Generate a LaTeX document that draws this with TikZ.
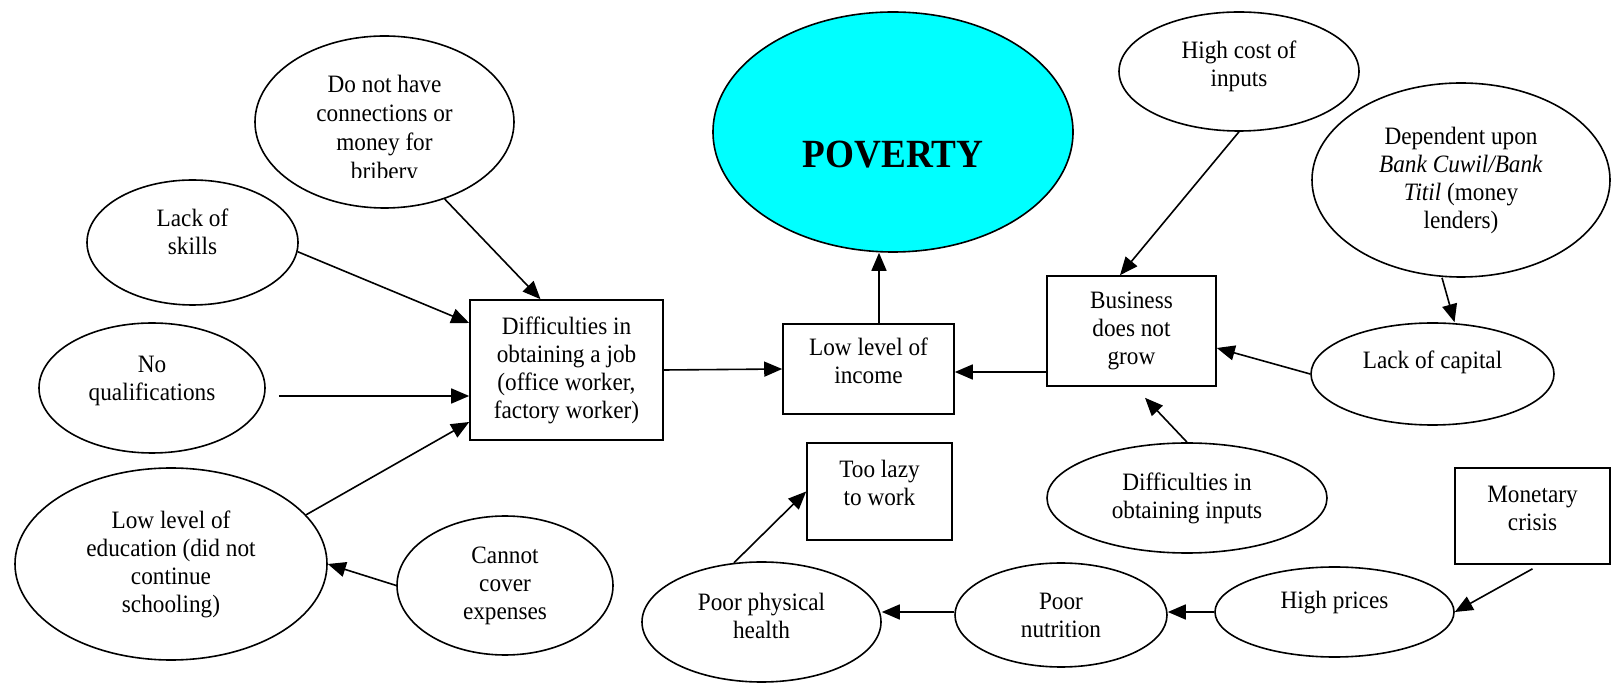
\documentclass[tikz,border=0pt]{standalone}
\usepackage{fontspec}
\setmainfont{Liberation Serif}[FakeStretch=0.93]
\usetikzlibrary{shapes.geometric,arrows.meta,calc}
\newcommand{\lift}[2]{\raisebox{#1}[\height][\depth]{#2}}
\newcommand{\lines}[1]{\begin{tabular}{@{}c@{}}#1\end{tabular}}
\tikzset{
  base/.style={draw, line width=0.8pt, inner sep=0pt, align=center,
    font=\fontsize{12.5pt}{14pt}\selectfont},
  ell/.style={base, ellipse},
  box/.style={base, rectangle},
  sz/.style 2 args={minimum width=#1pt, minimum height=#2pt},
  arr/.style={line width=0.8pt, -{Triangle[length=9pt,width=7.5pt]}}
}
\begin{document}
\begin{tikzpicture}[x=0.5pt,y=-0.5pt]
\fill[white] (0,0) rectangle (1612,683);
\useasboundingbox (0,0) rectangle (1612,683);

% central chain
\node[ell, sz={180}{120}, fill={rgb,255:red,0;green,255;blue,255},
      font=\fontsize{20pt}{22pt}\selectfont\bfseries] (pov) at (893,132) {\lift{-11.5pt}{POVERTY}};
\node[box, sz={85.5}{45}] (income) at (868.5,369) {\lift{2.5pt}{\lines{Low level of\\income}}};
\node[box, sz={96.5}{70}] (job) at (566.5,370) {Difficulties in\\obtaining a job\\(office worker,\\factory worker)};
\node[box, sz={84.5}{55}] (biz) at (1131.5,331) {Business\\does not\\grow};

% left causes
\node[ell, sz={129.5}{86}] (dnh) at (384.5,122) {};
\begin{scope}
  \clip (300,60) rectangle (470,178);
  \node[align=center, font=\fontsize{12.5pt}{14.5pt}\selectfont, inner sep=0pt] (dnhtext) at (384.5,130.5)
    {Do not have\\connections or\\money for\\bribery};
\end{scope}
\node[ell, sz={105.5}{62.5}] (skills) at (192.5,242.5) {\lift{3.75pt}{\lines{Lack of\\skills}}};
\node[ell, sz={113}{65}] (noqual) at (152,388) {\lift{3.5pt}{\lines{No\\qualifications}}};
\node[ell, sz={156}{96}] (edu) at (171,564) {Low level of\\education (did not\\continue\\schooling)};
\node[ell, sz={108}{69.5}] (cannot) at (505,585.5) {Cannot\\cover\\expenses};

% right causes
\node[ell, sz={120}{59.5}] (hc) at (1239,71.5) {\lift{2.25pt}{\lines{High cost of\\inputs}}};
\node[ell, sz={149}{97}] (dep) at (1461,180) {Dependent upon\\\textit{Bank Cuwil/Bank}\\\textit{Titil} (money\\lenders)};
\node[ell, sz={121.5}{51}] (lackcap) at (1432.5,374) {\lift{6pt}{Lack of capital}};
\node[ell, sz={140}{55}] (difinp) at (1187,498) {Difficulties in\\obtaining inputs};

% bottom chain
\node[box, sz={72.5}{48.5}] (lazy) at (879.5,491.5) {\lift{2.75pt}{\lines{Too lazy\\to work}}};
\node[box, sz={77.5}{48}] (monet) at (1532.5,516) {\lift{2.5pt}{\lines{Monetary\\crisis}}};
\node[ell, sz={119.5}{45}] (hp) at (1334.5,612) {\lift{4.5pt}{High prices}};
\node[ell, sz={106}{52}] (nut) at (1061,615) {Poor\\nutrition};
\node[ell, sz={119.5}{60}] (health) at (761.5,622) {\lift{1.5pt}{\lines{Poor physical\\health}}};

% connectors
\draw[arr] (dnh.-52) -- ([xshift=-13pt]job.north);
\draw[arr] (skills.-5) -- ([yshift=23.5pt]job.west);
\draw[arr] ([shift={(6.5pt,-4pt)}]noqual.east) -- ([yshift=-13pt]job.west);
\draw[arr] (edu.20) -- ([yshift=-26pt]job.west);
\draw[arr] (cannot.west) -- (edu.east);
\draw[arr] (job.east) -- (income.west);
\draw[arr] ([xshift=5.25pt]income.north) -- ([xshift=5.25pt]income.north |- pov.south);
\draw[arr] ([yshift=-20.5pt]biz.west) -- ([yshift=-20.5pt]biz.west -| income.east);
\draw[arr] (hc.south) -- ([xshift=-5.75pt]biz.north);
\draw[arr] ([xshift=-9.5pt]dep.south) -- ([xshift=11pt]lackcap.north);
\draw[arr] (lackcap.west) -- ([yshift=-8.5pt]biz.east);
\draw[arr] (difinp.north) -- ([shift={(6.75pt,-5.5pt)}]biz.south);
\draw[arr] ([yshift=-2pt]monet.south) -- (hp.east);
\draw[arr] (hp.west) -- (hp.west -| nut.east);
\draw[arr] ([yshift=1.5pt]nut.west) -- ([yshift=1.5pt]nut.west -| health.east);
\draw[arr] (health.115) -- (lazy.west);
\end{tikzpicture}
\end{document}
